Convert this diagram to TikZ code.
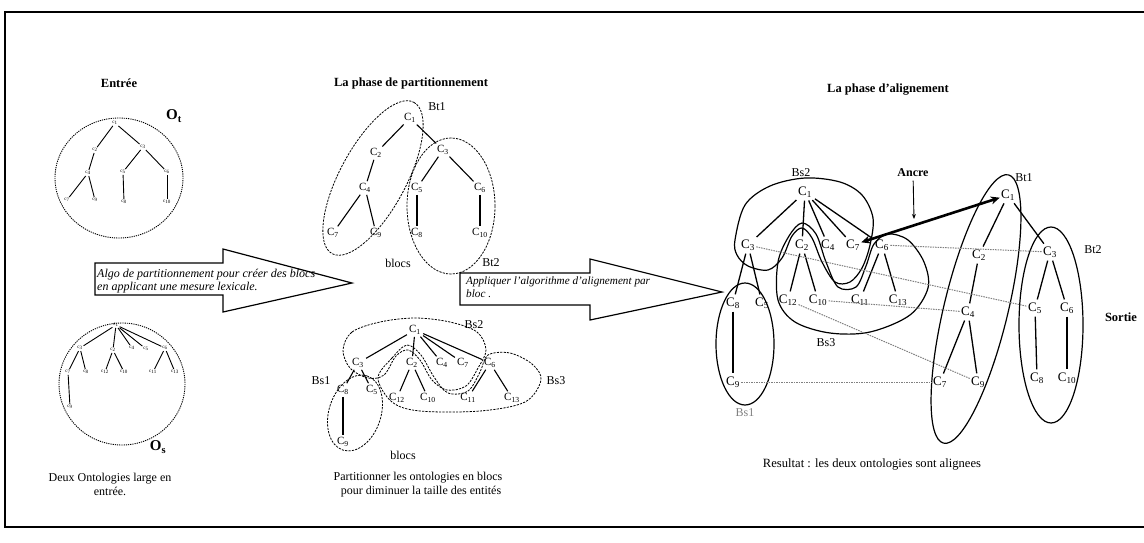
\documentclass[tikz,border=0pt]{standalone}
\usepackage{fontspec}
\setmainfont{Liberation Serif}
\usetikzlibrary{arrows.meta}
\newcommand{\cn}[1]{C\textsubscript{#1}}
\newcommand{\tn}[1]{c\textsubscript{#1}}
\begin{document}
\begin{tikzpicture}[x=1pt,y=-1pt,
  tiny/.style={font=\fontsize{5}{5}\selectfont, inner sep=0.8pt},
  cp/.style={font=\fontsize{11}{11}\selectfont, inner sep=1.2pt},
  ca/.style={font=\fontsize{13}{13}\selectfont, inner sep=1.2pt},
  tedge/.style={line width=0.9pt},
  pedge/.style={line width=1.1pt, shorten >=1pt, shorten <=1pt},
  aedge/.style={line width=1.3pt, shorten >=2pt, shorten <=2pt},
  dotc/.style={dash pattern=on 1.2pt off 1pt, line width=0.9pt},
  dashc/.style={dash pattern=on 2.2pt off 1.2pt, line width=0.8pt},
  solidc/.style={line width=1.2pt},
  alink/.style={gray, dash pattern=on 1.5pt off 1pt, line width=1pt},
  hdr/.style={font=\bfseries\fontsize{12.5}{14}\selectfont},
  lbl/.style={font=\fontsize{12}{14}\selectfont, inner sep=1pt},
  itx/.style={font=\itshape\fontsize{12}{13}\selectfont, align=left, anchor=north west, inner sep=0pt},
  blk/.style={line width=1.2pt, fill=white},
]
\useasboundingbox (0,0) rectangle (1144,542);
% frame
\draw[line width=1.2pt] (1144,12) -- (5,12) -- (5,527) -- (1144,527);

% headers
\node[hdr] (hin) at (119,83) {Entrée};
\node[hdr] (hpart) at (411,83) {La phase de partitionnement};
\node[hdr] (halign) at (888,90) {La phase d'alignement};

% ===== Input: Ot =====
\draw[dotc] (119,178) ellipse [x radius=64, y radius=60];
\node[font=\bfseries\fontsize{15}{15}\selectfont] (ot) at (174,116) {O\textsubscript{t}};
\node[tiny] (t1) at (115,123) {\tn{1}};
\node[tiny] (t2) at (95,150) {\tn{2}};
\node[tiny] (t3) at (143,147) {\tn{3}};
\node[tiny] (t4) at (88,173) {\tn{4}};
\node[tiny] (t5) at (123,172) {\tn{5}};
\node[tiny] (t6) at (167,172) {\tn{6}};
\node[tiny] (t7) at (67,200) {\tn{7}};
\node[tiny] (t9) at (95,200) {\tn{9}};
\node[tiny] (t8) at (124,202) {\tn{8}};
\node[tiny] (t10) at (167,202) {\tn{10}};
\draw[tedge] (t1) -- (t2); \draw[tedge] (t1) -- (t3);
\draw[tedge] (t2) -- (t4); \draw[tedge] (t4) -- (t7); \draw[tedge] (t4) -- (t9);
\draw[tedge] (t3) -- (t5); \draw[tedge] (t3) -- (t6);
\draw[tedge] (t5) -- (t8); \draw[tedge] (t6) -- (t10);

% ===== Input: Os =====
\draw[dotc] (122,384) ellipse [x radius=63, y radius=61];
\node[font=\bfseries\fontsize{15}{15}\selectfont] (os) at (158,447) {O\textsubscript{s}};
\node[tiny] (s1) at (116,325) {\tn{1}};
\node[tiny] (s3) at (80,348) {\tn{3}};
\node[tiny] (s2) at (113,350) {\tn{2}};
\node[tiny] (s4) at (132,348) {\tn{4}};
\node[tiny] (s5) at (146,349) {\tn{5}};
\node[tiny] (s6) at (165,348) {\tn{6}};
\node[tiny] (s7) at (68,372) {\tn{7}};
\node[tiny] (s8) at (86,372) {\tn{8}};
\node[tiny] (s12) at (105,372) {\tn{12}};
\node[tiny] (s10) at (124,372) {\tn{10}};
\node[tiny] (s11) at (153,372) {\tn{11}};
\node[tiny] (s13) at (175,372) {\tn{13}};
\node[tiny] (s9) at (70,407) {\tn{9}};
\foreach \c in {s3,s2,s4,s5,s6} \draw[tedge] (s1) -- (\c);
\draw[tedge] (s3) -- (s7); \draw[tedge] (s3) -- (s8);
\draw[tedge] (s2) -- (s12); \draw[tedge] (s2) -- (s10);
\draw[tedge] (s6) -- (s11); \draw[tedge] (s6) -- (s13);
\draw[tedge] (s7) -- (s9);
\node[lbl, align=center] (capin) at (110,484) {Deux Ontologies large en\\entrée.};

% ===== Arrow 1 =====
\draw[blk] (95,263) -- (223,263) -- (223,249) -- (352,283) -- (223,312) -- (223,295) -- (95,295) -- cycle;
\node[itx] (ar1) at (97,269) {Algo de partitionnement pour créer des blocs\\en applicant une mesure lexicale.};

% ===== Partition: Bt =====
\draw[dashc, rotate around={61.6:(373,178)}] (373,178) ellipse [x radius=86, y radius=33];
\draw[dashc] (451,206) ellipse [x radius=44, y radius=68];
\node[cp] (p1) at (410,118) {\cn{1}};
\node[cp] (p2) at (376,153) {\cn{2}};
\node[cp] (p4) at (365,188) {\cn{4}};
\node[cp] (p7) at (333,233) {\cn{7}};
\node[cp] (p9) at (376,233) {\cn{9}};
\node[cp] (p3) at (443,150) {\cn{3}};
\node[cp] (p5) at (417,188) {\cn{5}};
\node[cp] (p6) at (480,188) {\cn{6}};
\node[cp] (p8) at (417,233) {\cn{8}};
\node[cp] (p10) at (480,233) {\cn{10}};
\draw[pedge] (p1) -- (p2); \draw[pedge] (p1) -- (p3);
\draw[pedge] (p2) -- (p4); \draw[pedge] (p4) -- (p7); \draw[pedge] (p4) -- (p9);
\draw[pedge] (p3) -- (p5); \draw[pedge] (p3) -- (p6);
\draw[pedge] (p5) -- (p8); \draw[pedge] (p6) -- (p10);
\node[lbl] (lbt1) at (437,107) {Bt1};
\node[lbl] (lbt2) at (491,263) {Bt2};
\node[lbl] (lblocs1) at (398,263) {blocs};

% ===== Partition: Bs =====
\draw[dashc] plot[smooth cycle, tension=0.55] coordinates {(343,350) (352,332) (380,322) (415,318) (450,322) (477,332) (486,350) (478,368) (466,386) (447,390) (432,380) (420,360) (408,350) (396,356) (384,375) (368,378) (350,368)};
\draw[dashc] plot[smooth cycle, tension=0.55] coordinates {(378,378) (392,358) (407,345) (421,355) (434,377) (448,393) (468,391) (480,372) (488,355) (510,353) (532,364) (541,380) (525,402) (480,411) (420,411) (392,402)};
\draw[dashc, rotate around={72:(355,413)}] (355,413) ellipse [x radius=39, y radius=26];
\node[cp] (q1) at (415,330) {\cn{1}};
\node[cp] (q3) at (358,363) {\cn{3}};
\node[cp] (q2) at (412,363) {\cn{2}};
\node[cp] (q4) at (442,363) {\cn{4}};
\node[cp] (q7) at (463,363) {\cn{7}};
\node[cp] (q6) at (490,363) {\cn{6}};
\node[cp] (q8) at (343,390) {\cn{8}};
\node[cp] (q5) at (372,390) {\cn{5}};
\node[cp] (q9) at (343,442) {\cn{9}};
\node[cp] (q12) at (397,398) {\cn{12}};
\node[cp] (q10) at (428,398) {\cn{10}};
\node[cp] (q11) at (468,398) {\cn{11}};
\node[cp] (q13) at (512,398) {\cn{13}};
\foreach \c in {q3,q2,q4,q7,q6} \draw[pedge] (q1) -- (\c);
\draw[pedge] (q3) -- (q8); \draw[pedge] (q3) -- (q5);
\draw[pedge] (q8) -- (q9);
\draw[pedge] (q2) -- (q12); \draw[pedge] (q2) -- (q10);
\draw[pedge] (q6) -- (q11); \draw[pedge] (q6) -- (q13);
\node[lbl] (lbs2) at (474,325) {Bs2};
\node[lbl] (lbs1) at (321,381) {Bs1};
\node[lbl] (lbs3) at (556,381) {Bs3};
\node[lbl] (lblocs2) at (403,455) {blocs};
\node[lbl, align=center] (cappart) at (418,485) {Partitionner les ontologies en blocs\\\hspace*{6pt}pour diminuer la taille des entités};

% ===== Arrow 2 =====
\draw[blk] (460,273) -- (590,273) -- (590,259) -- (722,292) -- (590,320) -- (590,305) -- (460,305) -- cycle;
\node[itx, font=\itshape\fontsize{11.2}{12.5}\selectfont] (ar2) at (466,277) {Appliquer l'algorithme d'alignement par\\bloc .};

% ===== Alignment: Bs =====
\draw[solidc] plot[smooth cycle, tension=0.55] coordinates {(735,240) (745,205) (770,186) (805,178) (840,182) (862,195) (873,218) (870,245) (862,268) (850,282) (835,282) (822,262) (812,238) (802,228) (792,236) (782,258) (768,270) (748,266) (737,255)};
\draw[solidc] plot[smooth cycle, tension=0.55] coordinates {(778,262) (789,236) (802,223) (816,234) (826,262) (838,287) (856,287) (866,266) (874,244) (888,234) (908,240) (924,262) (928,288) (910,315) (870,332) (830,333) (795,322) (778,300)};
\draw[solidc] (745,344) ellipse [x radius=29, y radius=61];
\node[ca] (a1) at (805,192) {\cn{1}};
\node[ca] (a3) at (748,245) {\cn{3}};
\node[ca] (a2) at (802,245) {\cn{2}};
\node[ca] (a4) at (828,245) {\cn{4}};
\node[ca] (a7) at (853,245) {\cn{7}};
\node[ca] (a6) at (882,245) {\cn{6}};
\node[ca] (a8) at (733,303) {\cn{8}};
\node[ca] (a5) at (762,303) {\cn{5}};
\node[ca] (a9) at (733,382) {\cn{9}};
\node[ca] (a12) at (788,300) {\cn{12}};
\node[ca] (a10) at (818,300) {\cn{10}};
\node[ca] (a11) at (860,300) {\cn{11}};
\node[ca] (a13) at (898,300) {\cn{13}};
\foreach \c in {a3,a2,a4,a7,a6} \draw[aedge] (a1) -- (\c);
\draw[aedge] (a3) -- (a8); \draw[aedge] (a3) -- (a5);
\draw[aedge] (a8) -- (a9);
\draw[aedge] (a2) -- (a12); \draw[aedge] (a2) -- (a10);
\draw[aedge] (a6) -- (a11); \draw[aedge] (a6) -- (a13);
\node[lbl] (las2) at (801,173) {Bs2};
\node[lbl] (las3) at (826,343) {Bs3};
\node[lbl, gray] (las1) at (745,413) {Bs1};

% ===== Alignment: Bt =====
\draw[solidc, rotate around={76.4:(976,309)}] (976,309) ellipse [x radius=138, y radius=32];
\draw[solidc] (1051,325) ellipse [x radius=32, y radius=98];
\node[ca] (b1) at (1008,195) {\cn{1}};
\node[ca] (b2) at (979,255) {\cn{2}};
\node[ca] (b4) at (968,312) {\cn{4}};
\node[ca] (b7) at (940,382) {\cn{7}};
\node[ca] (b9) at (978,382) {\cn{9}};
\node[ca] (b3) at (1050,252) {\cn{3}};
\node[ca] (b5) at (1035,308) {\cn{5}};
\node[ca] (b6) at (1067,308) {\cn{6}};
\node[ca] (b8) at (1037,378) {\cn{8}};
\node[ca] (b10) at (1067,378) {\cn{10}};
\draw[aedge] (b1) -- (b2); \draw[aedge] (b1) -- (b3);
\draw[aedge] (b2) -- (b4); \draw[aedge] (b4) -- (b7); \draw[aedge] (b4) -- (b9);
\draw[aedge] (b3) -- (b5); \draw[aedge] (b3) -- (b6);
\draw[aedge] (b5) -- (b8); \draw[aedge] (b6) -- (b10);
\node[lbl] (lat1) at (1024,178) {Bt1};
\node[lbl] (lat2) at (1093,250) {Bt2};
\node[font=\bfseries\fontsize{12.5}{13}\selectfont] (sortie) at (1121,317) {Sortie};

% alignment links
\draw[alink] (a3) -- (b5);
\draw[alink] (a6) -- (b3);
\draw[alink] (a10) -- (b4);
\draw[alink] (a12) -- (b9);
\draw[alink] (a9) -- (b7);

% anchor
\draw[line width=2.6pt, {Stealth[length=9pt,width=8pt]}-{Stealth[length=9pt,width=8pt]}] (a7) -- (b1);
\node[font=\bfseries\fontsize{12}{13}\selectfont] (ancre) at (913,173) {Ancre};
\coordinate (ancT) at (914,219);
\draw[line width=0.9pt, -{Stealth[length=5pt,width=4pt]}] (ancre) -- (ancT);

\node[lbl, font=\fontsize{12.6}{14}\selectfont] (result) at (872,464) {Resultat : les deux ontologies sont alignees};
\end{tikzpicture}
\end{document}
